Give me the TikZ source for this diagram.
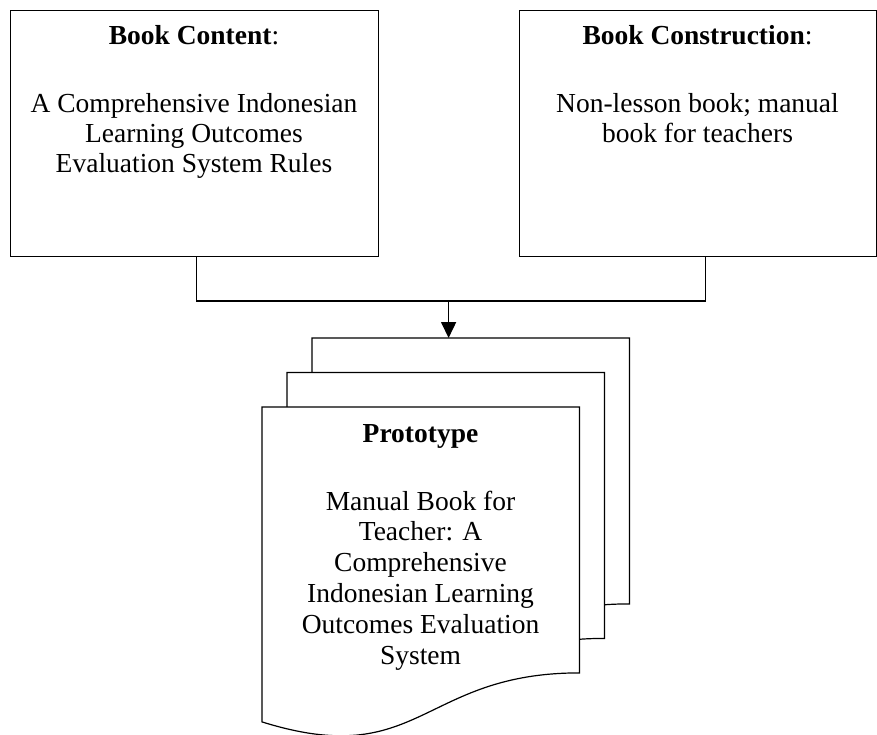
\documentclass[tikz,border=0pt]{standalone}
\usepackage{fontspec}
\setmainfont{Liberation Serif}
\usetikzlibrary{arrows.meta,calc}
\newcommand\docshape[1]{\draw[doc] (#1.north west) -- (#1.north east) -- ([yshift=65.5pt]#1.south east) .. controls ([yshift=65.5pt]#1.south) and ([yshift=-33pt]#1.south) .. ([yshift=16.5pt]#1.south west) -- cycle;}
\begin{document}
\begin{tikzpicture}[x=1pt,y=-1pt,
  box/.style={draw, line width=1.2pt, minimum width=368pt, minimum height=246pt, anchor=north west, inner sep=0pt},
  txt/.style={anchor=base, inner sep=0pt, font=\fontsize{27.5}{31}\selectfont},
  conn/.style={line width=1.6pt},
  doc/.style={draw, fill=white, line width=1.2pt},
  docframe/.style={minimum width=317pt, minimum height=331pt, anchor=north west, inner sep=0pt}
]
\useasboundingbox (0,0) rectangle (877,735);

% top boxes
\node[box] (content) at (10,10) {};
\node[box, minimum width=357pt] (construction) at (519,10) {};

\node[txt] (contentTitle) at (194,45) {\textbf{Book Content}:};
\node[txt] (c1) at (194,113) {A Comprehensive Indonesian};
\node[txt] (c2) at (194,143) {Learning Outcomes};
\node[txt] (c3) at (194,173) {Evaluation System Rules};

\node[txt] (constructionTitle) at (697.5,45) {\textbf{Book Construction}:};
\node[txt] (k1) at (697.5,113) {Non-lesson book; manual};
\node[txt] (k2) at (697.5,143) {book for teachers};

% document stack frames
\node[docframe] (back) at (312,338) {};
\node[docframe] (middle) at (287,372.5) {};
\node[docframe] (front) at (262,407) {};

% connector
\coordinate (j) at (448.6,301);
\draw[conn] ([xshift=2pt]content.south) |- (j) -| ([xshift=7.5pt]construction.south);
\draw[conn, -{Triangle[width=15pt,length=16pt]}] (j) -- (j |- back.north);

% documents
\docshape{back}
\docshape{middle}
\docshape{front}

\node[txt] (pTitle) at (420.5,442) {\textbf{Prototype}};
\node[txt] (p1) at (420.5,510) {Manual Book for};
\node[txt] (p2) at (420.5,540.8) {Teacher: A};
\node[txt] (p3) at (420.5,571.6) {Comprehensive};
\node[txt] (p4) at (420.5,602.4) {Indonesian Learning};
\node[txt] (p5) at (420.5,633.2) {Outcomes Evaluation};
\node[txt] (p6) at (420.5,664) {System};
\end{tikzpicture}
\end{document}
